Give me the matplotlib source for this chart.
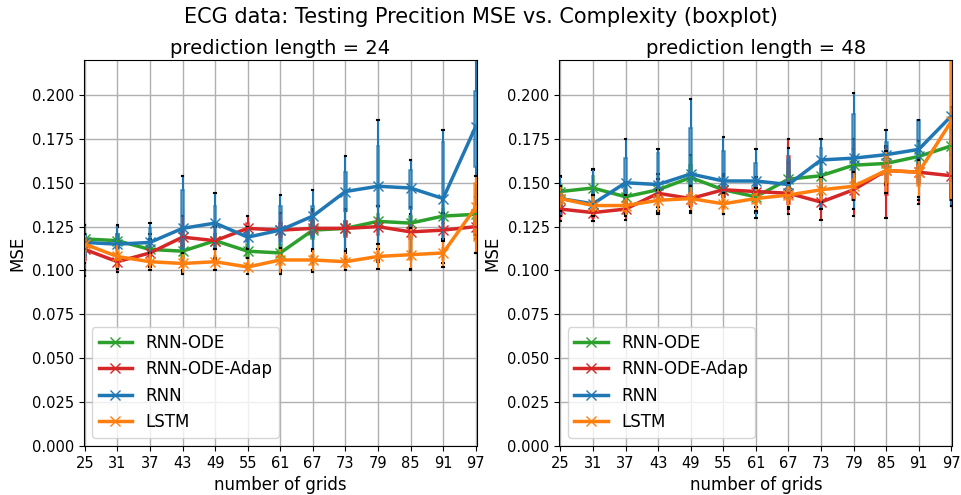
import matplotlib
matplotlib.use('Agg')
import matplotlib.pyplot as plt

grids = [25, 31, 37, 43, 49, 55, 61, 67, 73, 79, 85, 91, 97]
names = ["RNN-ODE", "RNN-ODE-Adap", "RNN", "LSTM"]
colors = ["#2ca02c", "#d62728", "#1f77b4", "#ff7f0e"]

# ---- prediction length = 24 ----
green24_med = [0.118, 0.117, 0.112, 0.111, 0.117, 0.111, 0.110, 0.123, 0.124, 0.128, 0.127, 0.131, 0.132]
green24_q1 = [0.114, 0.113, 0.108, 0.107, 0.113, 0.107, 0.106, 0.118, 0.120, 0.123, 0.122, 0.127, 0.128]
green24_q3 = [0.121, 0.121, 0.116, 0.115, 0.121, 0.115, 0.115, 0.128, 0.128, 0.132, 0.131, 0.135, 0.136]
green24_lo = [0.106, 0.107, 0.103, 0.100, 0.106, 0.101, 0.100, 0.108, 0.112, 0.112, 0.111, 0.118, 0.118]
green24_hi = [0.126, 0.125, 0.121, 0.122, 0.125, 0.120, 0.122, 0.135, 0.134, 0.137, 0.136, 0.140, 0.142]

red24_med = [0.112, 0.105, 0.110, 0.119, 0.117, 0.124, 0.123, 0.124, 0.124, 0.125, 0.122, 0.123, 0.125]
red24_q1 = [0.106, 0.102, 0.107, 0.114, 0.112, 0.120, 0.119, 0.120, 0.119, 0.120, 0.118, 0.119, 0.120]
red24_q3 = [0.116, 0.109, 0.113, 0.124, 0.121, 0.127, 0.127, 0.128, 0.128, 0.130, 0.126, 0.127, 0.129]
red24_lo = [0.097, 0.099, 0.102, 0.106, 0.105, 0.113, 0.109, 0.111, 0.110, 0.106, 0.110, 0.110, 0.110]
red24_hi = [0.121, 0.113, 0.118, 0.131, 0.126, 0.131, 0.133, 0.134, 0.135, 0.137, 0.132, 0.133, 0.137]

blue24_med = [0.116, 0.115, 0.116, 0.124, 0.127, 0.119, 0.123, 0.131, 0.145, 0.148, 0.147, 0.141, 0.182]
blue24_q1 = [0.108, 0.112, 0.112, 0.112, 0.120, 0.116, 0.116, 0.119, 0.134, 0.136, 0.135, 0.129, 0.159]
blue24_q3 = [0.121, 0.121, 0.124, 0.146, 0.137, 0.122, 0.137, 0.137, 0.156, 0.171, 0.157, 0.173, 0.202]
blue24_lo = [0.100, 0.107, 0.104, 0.099, 0.107, 0.112, 0.099, 0.100, 0.106, 0.105, 0.100, 0.104, 0.120]
blue24_hi = [0.126, 0.126, 0.127, 0.154, 0.144, 0.125, 0.143, 0.146, 0.165, 0.186, 0.163, 0.180, 0.235]

orange24_med = [0.115, 0.108, 0.105, 0.104, 0.105, 0.102, 0.106, 0.106, 0.105, 0.108, 0.109, 0.110, 0.136]
orange24_q1 = [0.111, 0.105, 0.103, 0.102, 0.103, 0.100, 0.103, 0.103, 0.102, 0.105, 0.106, 0.106, 0.117]
orange24_q3 = [0.118, 0.111, 0.107, 0.107, 0.108, 0.104, 0.109, 0.109, 0.108, 0.111, 0.120, 0.113, 0.150]
orange24_lo = [0.104, 0.101, 0.100, 0.098, 0.100, 0.098, 0.098, 0.099, 0.100, 0.101, 0.101, 0.102, 0.110]
orange24_hi = [0.121, 0.115, 0.110, 0.110, 0.112, 0.107, 0.113, 0.112, 0.111, 0.115, 0.124, 0.117, 0.154]

# ---- prediction length = 48 ----
green48_med = [0.145, 0.147, 0.142, 0.146, 0.153, 0.146, 0.142, 0.152, 0.154, 0.160, 0.161, 0.165, 0.171]
green48_q1 = [0.140, 0.142, 0.138, 0.142, 0.146, 0.142, 0.139, 0.147, 0.149, 0.155, 0.156, 0.160, 0.165]
green48_q3 = [0.149, 0.154, 0.146, 0.150, 0.160, 0.150, 0.146, 0.156, 0.158, 0.164, 0.165, 0.169, 0.175]
green48_lo = [0.133, 0.136, 0.133, 0.136, 0.140, 0.136, 0.133, 0.140, 0.143, 0.148, 0.149, 0.153, 0.158]
green48_hi = [0.153, 0.157, 0.150, 0.155, 0.166, 0.155, 0.151, 0.161, 0.162, 0.169, 0.170, 0.174, 0.180]

red48_med = [0.135, 0.133, 0.135, 0.144, 0.141, 0.146, 0.145, 0.144, 0.139, 0.146, 0.157, 0.156, 0.154]
red48_q1 = [0.131, 0.130, 0.132, 0.140, 0.137, 0.142, 0.141, 0.138, 0.135, 0.140, 0.143, 0.150, 0.140]
red48_q3 = [0.139, 0.136, 0.138, 0.148, 0.145, 0.150, 0.149, 0.165, 0.143, 0.165, 0.160, 0.160, 0.160]
red48_lo = [0.128, 0.128, 0.129, 0.134, 0.133, 0.137, 0.136, 0.132, 0.129, 0.131, 0.130, 0.138, 0.137]
red48_hi = [0.143, 0.139, 0.141, 0.152, 0.149, 0.154, 0.153, 0.175, 0.147, 0.175, 0.171, 0.164, 0.166]

blue48_med = [0.141, 0.138, 0.150, 0.149, 0.155, 0.151, 0.151, 0.149, 0.163, 0.164, 0.166, 0.169, 0.188]
blue48_q1 = [0.137, 0.135, 0.138, 0.140, 0.144, 0.144, 0.144, 0.144, 0.144, 0.146, 0.159, 0.157, 0.140]
blue48_q3 = [0.146, 0.145, 0.164, 0.167, 0.181, 0.168, 0.161, 0.163, 0.170, 0.189, 0.173, 0.186, 0.190]
blue48_lo = [0.131, 0.131, 0.132, 0.132, 0.136, 0.132, 0.130, 0.135, 0.135, 0.135, 0.150, 0.140, 0.137]
blue48_hi = [0.154, 0.158, 0.175, 0.169, 0.198, 0.176, 0.169, 0.170, 0.175, 0.201, 0.180, 0.186, 0.193]

orange48_med = [0.141, 0.137, 0.137, 0.140, 0.141, 0.138, 0.141, 0.143, 0.146, 0.148, 0.157, 0.156, 0.185]
orange48_q1 = [0.138, 0.134, 0.134, 0.137, 0.138, 0.135, 0.138, 0.140, 0.143, 0.144, 0.150, 0.148, 0.150]
orange48_q3 = [0.144, 0.140, 0.140, 0.143, 0.144, 0.141, 0.144, 0.147, 0.150, 0.152, 0.165, 0.160, 0.240]
orange48_lo = [0.134, 0.131, 0.131, 0.133, 0.134, 0.132, 0.134, 0.136, 0.139, 0.140, 0.144, 0.142, 0.140]
orange48_hi = [0.148, 0.143, 0.143, 0.146, 0.148, 0.144, 0.147, 0.150, 0.153, 0.156, 0.168, 0.163, 0.260]

panels = [
    ("prediction length = 24", [
        (green24_med, green24_q1, green24_q3, green24_lo, green24_hi),
        (red24_med, red24_q1, red24_q3, red24_lo, red24_hi),
        (blue24_med, blue24_q1, blue24_q3, blue24_lo, blue24_hi),
        (orange24_med, orange24_q1, orange24_q3, orange24_lo, orange24_hi),
    ]),
    ("prediction length = 48", [
        (green48_med, green48_q1, green48_q3, green48_lo, green48_hi),
        (red48_med, red48_q1, red48_q3, red48_lo, red48_hi),
        (blue48_med, blue48_q1, blue48_q3, blue48_lo, blue48_hi),
        (orange48_med, orange48_q1, orange48_q3, orange48_lo, orange48_hi),
    ]),
]

fig, axes = plt.subplots(1, 2, figsize=(9.62, 4.95), dpi=100)
fig.suptitle('ECG data: Testing Precition MSE vs. Complexity (boxplot)', fontsize=15, y=0.985)

for ax, (title, series) in zip(axes, panels):
    for name, c, (med, q1, q3, lo, hi) in zip(names, colors, series):
        stats = [dict(med=m, q1=a, q3=b, whislo=l, whishi=h, fliers=[])
                 for m, a, b, l, h in zip(med, q1, q3, lo, hi)]
        ax.bxp(stats, positions=grids, widths=0.5, patch_artist=True,
               showfliers=False, manage_ticks=False,
               boxprops=dict(facecolor=c, edgecolor=c, alpha=0.7, linewidth=1.2),
               whiskerprops=dict(color=c, linewidth=1.5),
               capprops=dict(color='black', linewidth=1.5),
               medianprops=dict(color=c, linewidth=1.5))
        ax.plot(grids, med, color=c, marker='x', markersize=7, linewidth=2.5, label=name)
    ax.set_xlim(24.8, 97.2)
    ax.set_ylim(0, 0.22)
    ax.set_xticks(grids)
    ax.tick_params(labelsize=10.5)
    ax.set_xlabel('number of grids', fontsize=12)
    ax.set_ylabel('MSE', fontsize=12)
    ax.set_title(title, fontsize=14, pad=4)
    ax.grid(True, linewidth=1)
    ax.legend(loc='lower left', fontsize=12)

plt.subplots_adjust(left=0.087, right=0.99, bottom=0.099, top=0.879, wspace=0.21)
plt.savefig('out.png', dpi=100)
